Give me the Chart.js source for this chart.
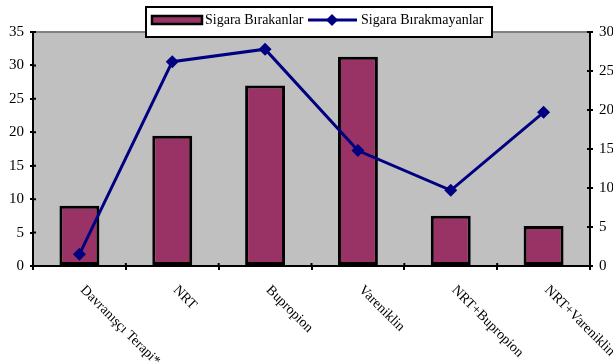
<!DOCTYPE html>
<html>
<head>
<meta charset="utf-8">
<script src="https://cdn.jsdelivr.net/npm/chart.js@4"></script>
<style>
  html, body { margin: 0; padding: 0; background: #ffffff; }
  #wrap { width: 613px; height: 362px; }
</style>
</head>
<body>
<div id="wrap"><canvas id="c" width="613" height="362"></canvas></div>
<script>
const categories = ['Davranışçı Terapi*', 'NRT', 'Bupropion', 'Vareniklin', 'NRT+Bupropion', 'NRT+Vareniklin'];
const quitValues = [9.0, 19.5, 27.0, 31.3, 7.5, 6.0];
const notQuitValues = [1.5, 26.2, 27.8, 14.8, 9.7, 19.7];
const seriesNames = ['Sigara Bırakanlar', 'Sigara Bırakmayanlar'];
const leftTicks = [0, 5, 10, 15, 20, 25, 30, 35];
const rightTicks = [0, 5, 10, 15, 20, 25, 30];

const FONT = "'Liberation Serif', 'Times New Roman', serif";
const BAR_COLOR = '#993366';
const LINE_COLOR = '#000080';

Chart.defaults.font.family = FONT;
Chart.defaults.color = '#000000';

const plotBg = {
  id: 'plotBg',
  beforeDraw(chart) {
    const { ctx, chartArea: a } = chart;
    ctx.save();
    ctx.fillStyle = '#ffffff';
    ctx.fillRect(0, 0, chart.width, chart.height);
    ctx.fillStyle = '#c0c0c0';
    ctx.fillRect(a.left, a.top, a.right - a.left, a.bottom - a.top);
    ctx.strokeStyle = '#808080';
    ctx.lineWidth = 2;
    ctx.beginPath();
    ctx.moveTo(a.left, a.top);
    ctx.lineTo(a.right, a.top);
    ctx.stroke();
    ctx.restore();
  }
};

const innerTicks = {
  id: 'innerTicks',
  afterDraw(chart) {
    const { ctx, chartArea: a, scales } = chart;
    ctx.save();
    ctx.strokeStyle = '#000000';
    ctx.lineWidth = 2;
    ctx.beginPath();
    scales.y.ticks.forEach((t, i) => {
      const y = scales.y.getPixelForTick(i);
      ctx.moveTo(a.left, y); ctx.lineTo(a.left + 3, y);
    });
    scales.y1.ticks.forEach((t, i) => {
      const y = scales.y1.getPixelForTick(i);
      ctx.moveTo(a.right - 3, y); ctx.lineTo(a.right, y);
    });
    const xs = scales.x, n = categories.length;
    for (let i = 0; i <= n; i++) {
      const x = xs.left + i * (xs.width / n);
      ctx.moveTo(x, a.bottom - 3); ctx.lineTo(x, a.bottom);
    }
    ctx.stroke();
    ctx.restore();
  }
};

const slantLabels = {
  id: 'slantLabels',
  afterDraw(chart) {
    const { ctx, scales } = chart;
    const xs = scales.x;
    ctx.save();
    ctx.fillStyle = '#000000';
    ctx.font = "14px " + FONT;
    ctx.textAlign = 'left';
    ctx.textBaseline = 'top';
    categories.forEach((lab, i) => {
      const x = xs.getPixelForValue(i) + 8;
      const y = xs.top + 17;
      ctx.save();
      ctx.translate(x, y);
      ctx.rotate(Math.PI / 4);
      ctx.fillText(lab, 0, 0);
      ctx.restore();
    });
    ctx.restore();
  }
};

const boxLegend = {
  id: 'boxLegend',
  afterDraw(chart) {
    const { ctx } = chart;
    ctx.save();
    ctx.fillStyle = '#ffffff';
    ctx.fillRect(146, 7, 346, 30);
    ctx.strokeStyle = '#000000';
    ctx.lineWidth = 2;
    ctx.strokeRect(146, 7, 346, 30);
    const cy = 20;
    ctx.fillStyle = BAR_COLOR;
    ctx.fillRect(152, cy - 4, 50, 8);
    ctx.lineWidth = 2.5;
    ctx.strokeRect(152, cy - 4, 50, 8);
    ctx.fillStyle = '#000000';
    ctx.font = "14px " + FONT;
    ctx.textAlign = 'left';
    ctx.textBaseline = 'middle';
    ctx.fillText(seriesNames[0], 205, cy);
    ctx.strokeStyle = LINE_COLOR;
    ctx.lineWidth = 3;
    ctx.beginPath();
    ctx.moveTo(308, cy); ctx.lineTo(357, cy);
    ctx.stroke();
    ctx.fillStyle = LINE_COLOR;
    ctx.beginPath();
    ctx.moveTo(332, cy - 6); ctx.lineTo(338, cy); ctx.lineTo(332, cy + 6); ctx.lineTo(326, cy);
    ctx.closePath();
    ctx.fill();
    ctx.fillStyle = '#000000';
    ctx.fillText(seriesNames[1], 361, cy);
    ctx.restore();
  }
};

new Chart(document.getElementById('c'), {
  data: {
    labels: categories,
    datasets: [
      {
        type: 'line',
        label: seriesNames[1],
        data: notQuitValues,
        yAxisID: 'y1',
        borderColor: LINE_COLOR,
        backgroundColor: LINE_COLOR,
        borderWidth: 3,
        tension: 0,
        pointStyle: 'rectRot',
        pointRadius: 6.5,
        pointBorderWidth: 0,
        pointBackgroundColor: LINE_COLOR,
        order: 0
      },
      {
        type: 'bar',
        label: seriesNames[0],
        data: quitValues,
        yAxisID: 'y',
        backgroundColor: BAR_COLOR,
        borderColor: '#000000',
        borderWidth: 3,
        borderSkipped: false,
        barPercentage: 0.43,
        categoryPercentage: 1,
        order: 1
      }
    ]
  },
  options: {
    responsive: false,
    animation: false,
    layout: { padding: { top: 32, left: 0, right: 0, bottom: 0 } },
    plugins: {
      legend: { display: false },
      tooltip: { enabled: false }
    },
    scales: {
      x: {
        offset: true,
        grid: { offset: true, drawOnChartArea: false, drawTicks: true, tickLength: 4, color: '#000000', lineWidth: 2 },
        border: { display: true, color: '#000000', width: 2 },
        ticks: { display: false },
        afterFit(s) { s.height = 96; }
      },
      y: {
        position: 'left',
        min: leftTicks[0],
        max: leftTicks[leftTicks.length - 1],
        afterBuildTicks(s) { s.ticks = leftTicks.map(v => ({ value: v })); },
        grid: { drawOnChartArea: false, tickLength: 3, color: '#000000', lineWidth: 2 },
        border: { display: true, color: '#000000', width: 2 },
        ticks: { padding: 6, font: { size: 15, family: FONT }, color: '#000000' },
        afterFit(s) { s.width = 33; }
      },
      y1: {
        position: 'right',
        min: rightTicks[0],
        max: rightTicks[rightTicks.length - 1],
        afterBuildTicks(s) { s.ticks = rightTicks.map(v => ({ value: v })); },
        grid: { drawOnChartArea: false, tickLength: 3, color: '#000000', lineWidth: 2 },
        border: { display: true, color: '#000000', width: 2 },
        ticks: { padding: 6, font: { size: 15, family: FONT }, color: '#000000' },
        afterFit(s) { s.width = 23; }
      }
    }
  },
  plugins: [plotBg, innerTicks, slantLabels, boxLegend]
});
</script>
</body>
</html>
